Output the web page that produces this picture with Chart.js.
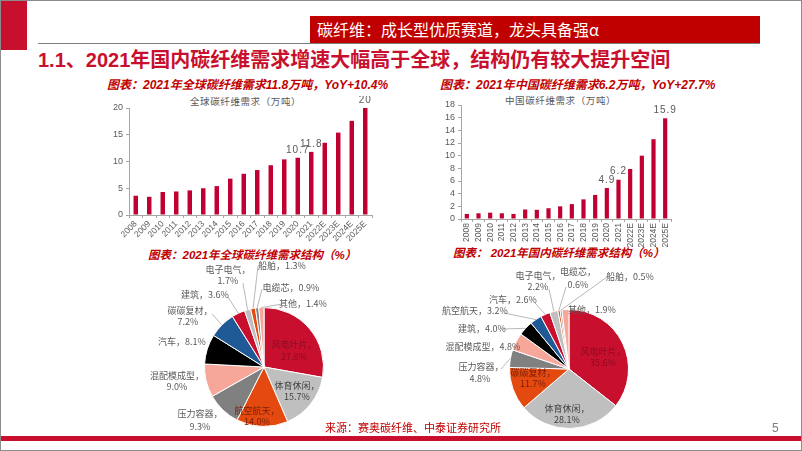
<!DOCTYPE html>
<html><head><meta charset="utf-8">
<script src="https://cdn.jsdelivr.net/npm/chart.js@4.4.0/dist/chart.umd.min.js"></script>
<style>
html,body{margin:0;padding:0;background:#fff;}
#slide{position:relative;width:802px;height:451px;overflow:hidden;font-family:"Noto Sans CJK SC",sans-serif;}
.abs{position:absolute;white-space:nowrap;}
canvas{position:absolute;}
.sub{color:#C00000;font-weight:bold;font-style:italic;font-size:12px;line-height:16px;font-family:"Liberation Sans","Noto Sans CJK SC",sans-serif;}
.ctitle{color:#595959;font-size:9.5px;line-height:12px;letter-spacing:0.6px;}
</style></head><body><div id="slide">
<div class="abs" style="left:0;top:0;width:27px;height:50px;background:#C8102E"></div>
<div class="abs" style="left:310px;top:16px;width:450px;height:27px;background:#C00000"></div>
<div class="abs" style="left:317px;top:16px;height:27px;line-height:27px;color:#fff;font-size:16px;">碳纤维：成长型优质赛道，龙头具备强α</div>
<div class="abs" style="left:38px;top:43px;width:722px;height:1px;background:#7f7f7f"></div>
<div class="abs" style="left:38px;top:47px;line-height:26px;font-size:20px;font-weight:bold;color:#C8102E;font-family:'Liberation Sans','Noto Sans CJK SC',sans-serif;">1.1、2021年国内碳纤维需求增速大幅高于全球，结构仍有较大提升空间</div>

<div class="abs sub" style="left:107px;top:77px;">图表：2021年全球碳纤维需求11.8万吨，YoY+10.4%</div>
<div class="abs ctitle" style="left:190px;top:95px;">全球碳纤维需求（万吨）</div>
<div class="abs sub" style="left:440px;top:77px;">图表：2021年中国碳纤维需求6.2万吨，YoY+27.7%</div>
<div class="abs ctitle" style="left:505px;top:94px;">中国碳纤维需求（万吨）</div>

<div class="abs sub" style="left:148px;top:247px;font-size:11.5px;">图表：2021年全球碳纤维需求结构（%）</div>
<div class="abs sub" style="left:453px;top:245px;font-size:11.5px;">图表： 2021年国内碳纤维需求结构（%）</div>

<canvas id="bar1" width="285" height="151" style="left:99px;top:96px"></canvas>
<canvas id="bar2" width="252" height="156" style="left:431px;top:93px"></canvas>
<canvas id="pie1" width="200" height="180" style="left:140px;top:258px"></canvas>
<canvas id="pie2" width="220" height="180" style="left:440px;top:258px"></canvas>

<div class="abs" style="left:325px;top:419px;font-size:11px;line-height:16px;color:#C00000;">来源：赛奥碳纤维、中泰证券研究所</div>
<div class="abs" style="left:772px;top:420px;font-size:12px;line-height:16px;color:#7f7f7f;font-family:'Liberation Sans',sans-serif;">5</div>
<div class="abs" style="left:0;top:436px;width:802px;height:5px;background:#C8102E"></div>
<div class="abs" style="left:0;top:0;width:800px;height:449px;border:1px solid #8c8c8c;pointer-events:none;"></div>
</div>
<script>
// ---------- data ----------
const years = ['2008','2009','2010','2011','2012','2013','2014','2015','2016','2017','2018','2019','2020','2021','2022E','2023E','2024E','2025E'];
const globalDemand = [3.6,3.4,4.3,4.4,4.6,5.0,5.4,6.8,7.7,8.4,9.3,10.4,10.7,11.8,13.5,15.4,17.6,20];
const chinaDemand = [0.8,0.9,1.0,0.9,0.8,1.5,1.45,1.7,2.0,2.35,3.1,3.8,4.9,6.2,7.9,10.0,12.6,15.9];
const globalLabeledYears = ['2020','2021','2025E'];
const chinaLabeledYears = ['2020','2021','2025E'];
const globalYTicks = [0,5,10,15,20];
const chinaYTicks = [0,2,4,6,8,10,12,14,16,18];

const globalSegments = ['风电叶片','体育休闲','航空航天','压力容器','混配模成型','汽车','碳碳复材','建筑','电子电气','船舶','电缆芯','其他'];
const globalShare = [27.8,15.7,14.0,9.3,9.0,8.1,7.2,3.6,1.7,1.3,0.9,1.4];
const chinaSegments = ['风电叶片','体育休闲','碳碳复材','压力容器','混配模成型','建筑','航空航天','汽车','电子电气','电缆芯','船舶','其他'];
const chinaShare = [35.6,28.1,11.7,4.8,4.8,4.0,3.2,2.6,2.2,0.6,0.5,1.9];

// ---------- styles ----------
const BAR_RED = '#C00032';
const palette = ['#C8102E','#BFBFBF','#E4490F','#808080','#F6A799','#000000','#1F5A96'];
const pieColors = n => Array.from({length:n},(_,i)=>palette[i%palette.length]);
const AXIS = '#a6a6a6', TXT = '#595959';

const valueLabels = {
  id:'valueLabels',
  afterDatasetsDraw(chart, args, opts){
    const ctx = chart.ctx, meta = chart.getDatasetMeta(0), ds = chart.data.datasets[0];
    ctx.save();
    ctx.font = '10px "Liberation Sans", sans-serif';
    ctx.fillStyle = TXT; ctx.textAlign='center'; ctx.textBaseline='bottom';
    if ('letterSpacing' in ctx) ctx.letterSpacing = '1px';
    chart.data.labels.forEach((l,i)=>{
      if(!opts.show.includes(l)) return;
      const b = meta.data[i];
      ctx.fillText(String(ds.data[i]), b.x, b.y - 3);
    });
    ctx.restore();
  }
};

function barChart(id, values, ticksArr, maxV, shown, rot, barPct){
  return new Chart(document.getElementById(id), {
    type:'bar',
    data:{labels:years, datasets:[{data:values, backgroundColor:BAR_RED, barPercentage:barPct, categoryPercentage:1}]},
    options:{
      responsive:false, animation:false, devicePixelRatio:1,
      layout:{padding:{top:12,right:12,left:0,bottom:0}},
      plugins:{legend:{display:false}, tooltip:{enabled:false}, valueLabels:{show:shown}},
      scales:{
        x:{
          grid:{display:true, drawOnChartArea:false, tickLength:3, color:AXIS, offset:true},
          border:{color:AXIS},
          ticks:{color:TXT, font:{size:8.5, family:'Liberation Sans'}, minRotation:rot, maxRotation:rot, autoSkip:false, padding:1},
          afterFit(s){ s.height = id==='bar1' ? 32 : 30; }
        },
        y:{
          min:0, max:maxV,
          afterBuildTicks(s){ s.ticks = ticksArr.map(v=>({value:v})); },
          grid:{display:true, drawOnChartArea:false, tickLength:3, color:AXIS},
          border:{color:AXIS},
          ticks:{color:TXT, font:{size:9, family:'Liberation Sans'}, padding:3, autoSkip:false},
          afterFit(s){ s.width = 30; }
        }
      }
    },
    plugins:[valueLabels]
  });
}
barChart('bar1', globalDemand, globalYTicks, 20, globalLabeledYears, 45, 0.33);
barChart('bar2', chinaDemand, chinaYTicks, 18, chinaLabeledYears, 90, 0.36);

// ---------- pie label layout (page coordinates) ----------
const globalLabelLayout = [
  {pos:[[294,345],[294,357]], color:'#8E0A22'},
  {pos:[[297,386],[297,397]], color:'#404040'},
  {pos:[[257,411],[257,422]], color:'#7A2008'},
  {pos:[[200,414],[200,427]]},
  {pos:[[177,376],[177,387]]},
  {pos:[[182,342]]},
  {pos:[[190,311],[188,322]], line:[212,314]},
  {pos:[[205,295]], line:[228,297]},
  {pos:[[228,270],[228,281]], line:[243,283]},
  {pos:[[282,266]], line:[258,266]},
  {pos:[[291,288]], line:[262,289]},
  {pos:[[303,304]], line:[282,304]}
];
const chinaLabelLayout = [
  {pos:[[603,352],[603,363]], color:'#8E0A22'},
  {pos:[[567,409],[567,420]], color:'#404040'},
  {pos:[[533,373],[533,384]], color:'#7A2008'},
  {pos:[[481,367],[480,379]], line:[501,369]},
  {pos:[[483,347]]},
  {pos:[[482,329]], line:[503,329]},
  {pos:[[475,311]], line:[504,313]},
  {pos:[[513,300]], line:[535,303]},
  {pos:[[538,276],[538,287]], line:[549,289]},
  {pos:[[578,272],[578,285]], line:[566,287]},
  {pos:[[630,277]], line:[607,277]},
  {pos:[[592,310]]}
];

const pieLabels = {
  id:'pieLabels',
  afterDatasetsDraw(chart, args, opts){
    const ctx = chart.ctx, meta = chart.getDatasetMeta(0);
    const names = chart.data.labels, vals = chart.data.datasets[0].data;
    const [ox, oy] = opts.offset;
    ctx.save();
    ctx.font = '9px "Noto Sans CJK SC", sans-serif';
    ctx.textAlign='center'; ctx.textBaseline='middle';
    opts.layout.forEach((lab,i)=>{
      const arc = meta.data[i];
      if(lab.line){
        const mid = (arc.startAngle+arc.endAngle)/2;
        const ex = arc.x + Math.cos(mid)*arc.outerRadius;
        const ey = arc.y + Math.sin(mid)*arc.outerRadius;
        ctx.strokeStyle = '#a6a6a6'; ctx.lineWidth = 0.8;
        ctx.beginPath(); ctx.moveTo(lab.line[0]-ox, lab.line[1]-oy); ctx.lineTo(ex, ey); ctx.stroke();
      }
      const pct = vals[i].toFixed(1) + '%';
      const lines = lab.pos.length === 2 ? [names[i]+'，', pct] : [names[i]+'，'+pct];
      ctx.fillStyle = lab.color || TXT;
      lines.forEach((t,k)=>ctx.fillText(t, lab.pos[k][0]-ox, lab.pos[k][1]-oy));
    });
    ctx.restore();
  }
};

function pieChart(id, names, vals, layout, offset, pad){
  return new Chart(document.getElementById(id), {
    type:'pie',
    data:{labels:names, datasets:[{data:vals, backgroundColor:pieColors(vals.length), borderColor:'#ffffff', borderWidth:1}]},
    options:{
      responsive:false, animation:false, devicePixelRatio:1,
      layout:{padding:pad},
      plugins:{legend:{display:false}, tooltip:{enabled:false}, pieLabels:{layout, offset}}
    },
    plugins:[pieLabels]
  });
}
pieChart('pie1', globalSegments, globalShare, globalLabelLayout, [140,258], {left:64, top:49, right:16, bottom:11});
pieChart('pie2', chinaSegments, chinaShare, chinaLabelLayout, [440,258], {left:69, top:51, right:31, bottom:9});
</script>
</body></html>
